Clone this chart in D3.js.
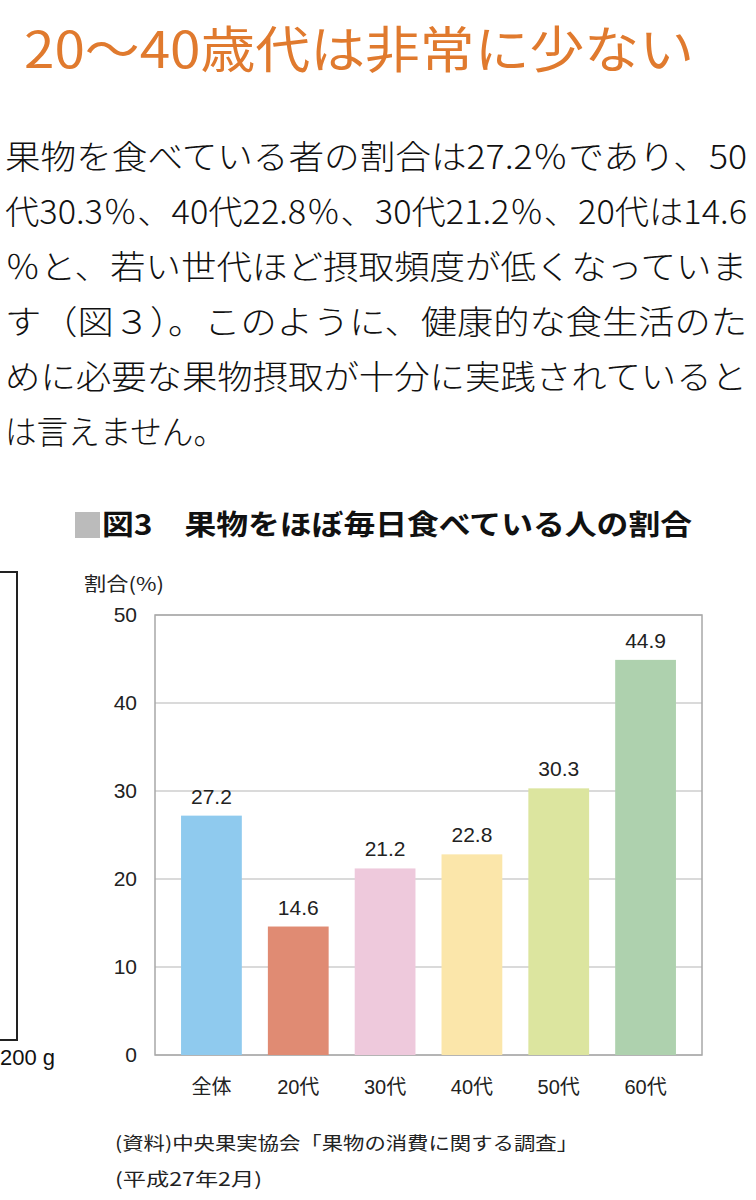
<!DOCTYPE html>
<html>
<head>
<meta charset="utf-8">
<script src="https://cdn.jsdelivr.net/npm/d3@7"></script>
<style>
  body { margin: 0; background: #fff; }
  svg text { font-family: "Liberation Sans", "Noto Sans CJK JP", sans-serif; }
</style>
</head>
<body>
<div id="chart"></div>
<script>
// data
var categories = ["全体", "20代", "30代", "40代", "50代", "60代"];
var values = [27.2, 14.6, 21.2, 22.8, 30.3, 44.9];
var barColors = ["#8fcaee", "#e08b73", "#eec9dc", "#fbe6aa", "#dce59f", "#aed1ae"];
var yTicks = [0, 10, 20, 30, 40, 50];

var heading = "20～40歳代は非常に少ない";
var bodyLines = [
  "果物を食べている者の割合は27.2％であり、50",
  "代30.3％、40代22.8％、30代21.2％、20代は14.6",
  "％と、若い世代ほど摂取頻度が低くなっていま",
  "す（図３）。このように、健康的な食生活のた",
  "めに必要な果物摂取が十分に実践されていると",
  "は言えません。"
];
var chartTitle = "図3　果物をほぼ毎日食べている人の割合";
var yTitle = "割合(%)";
var sourceLines = ["(資料)中央果実協会「果物の消費に関する調査」", "(平成27年2月)"];

var W = 756, H = 1200;
var svg = d3.select("#chart").append("svg")
  .attr("width", W)
  .attr("height", H);

// heading
svg.append("text")
  .attr("x", 24).attr("y", 68)
  .attr("textLength", 670).attr("lengthAdjust", "spacingAndGlyphs")
  .style("font-family", "'Noto Sans CJK JP', sans-serif")
  .style("font-size", "50px")
  .style("font-weight", 400)
  .attr("fill", "#e07a2e")
  .text(heading);

// body paragraph
svg.selectAll(".body").data(bodyLines).enter().append("text")
  .attr("class", "body")
  .attr("x", 5)
  .attr("y", function(d, i) { return 169 + i * 55; })
  .attr("textLength", function(d, i) { return i < 5 ? 742 : 220; })
  .attr("lengthAdjust", "spacingAndGlyphs")
  .style("font-family", "'Noto Sans CJK JP', serif")
  .style("font-size", "33px")
  .style("font-weight", 300)
  .attr("fill", "#111")
  .text(function(d) { return d; });

// chart title
svg.append("rect")
  .attr("x", 75).attr("y", 512).attr("width", 25).attr("height", 26)
  .attr("fill", "#bbbbbb");
svg.append("text")
  .attr("x", 102).attr("y", 535)
  .attr("textLength", 590).attr("lengthAdjust", "spacingAndGlyphs")
  .style("font-family", "'Noto Sans CJK JP', sans-serif")
  .style("font-size", "28px")
  .style("font-weight", 700)
  .attr("fill", "#111")
  .text(chartTitle);

// partial frame of the neighbouring figure on the left
svg.append("path")
  .attr("d", "M-5,572 H17 V1040 H-5")
  .attr("fill", "none")
  .attr("stroke", "#222")
  .attr("stroke-width", 2);
svg.append("text")
  .attr("x", 0).attr("y", 1065)
  .style("font-size", "22px")
  .attr("fill", "#111")
  .text("200 g");

// plot area
var plotL = 155, plotR = 702, plotT = 615, plotB = 1055;

var x = d3.scaleBand()
  .domain(categories)
  .range([plotL, plotR])
  .paddingInner(0.3)
  .paddingOuter(0.3);

var y = d3.scaleLinear()
  .domain([0, 50])
  .range([plotB, plotT]);

// gridlines
svg.append("g")
  .selectAll("line").data(yTicks).enter().append("line")
  .attr("x1", plotL).attr("x2", plotR)
  .attr("y1", function(d) { return y(d); })
  .attr("y2", function(d) { return y(d); })
  .attr("stroke", "#b5b5b5")
  .attr("stroke-width", 1.2);

// frame
svg.append("rect")
  .attr("x", plotL).attr("y", plotT)
  .attr("width", plotR - plotL).attr("height", plotB - plotT)
  .attr("fill", "none")
  .attr("stroke", "#a8a8a8")
  .attr("stroke-width", 1.5);

// y axis labels
var yAxis = svg.append("g")
  .attr("transform", "translate(" + plotL + ",0)")
  .call(d3.axisLeft(y).tickValues(yTicks).tickSize(0).tickPadding(18));
yAxis.select(".domain").remove();
yAxis.selectAll("text")
  .style("font-family", "'Liberation Sans', sans-serif")
  .style("font-size", "21px")
  .attr("fill", "#222");

svg.append("text")
  .attr("x", 84).attr("y", 591)
  .attr("textLength", 80).attr("lengthAdjust", "spacingAndGlyphs")
  .style("font-family", "'Noto Sans CJK JP', sans-serif")
  .style("font-size", "19px")
  .attr("fill", "#222")
  .text(yTitle);

// bars
svg.selectAll(".bar").data(values).enter().append("rect")
  .attr("class", "bar")
  .attr("x", function(d, i) { return x(categories[i]); })
  .attr("width", x.bandwidth())
  .attr("y", function(d) { return y(d); })
  .attr("height", function(d) { return plotB - y(d); })
  .attr("fill", function(d, i) { return barColors[i]; });

// value labels
svg.selectAll(".val").data(values).enter().append("text")
  .attr("class", "val")
  .attr("x", function(d, i) { return x(categories[i]) + x.bandwidth() / 2; })
  .attr("y", function(d) { return y(d) - 12; })
  .attr("text-anchor", "middle")
  .style("font-size", "21px")
  .attr("fill", "#222")
  .text(function(d) { return d.toFixed(1); });

// category labels
svg.selectAll(".cat").data(categories).enter().append("text")
  .attr("class", "cat")
  .attr("x", function(d) { return x(d) + x.bandwidth() / 2; })
  .attr("y", 1094)
  .attr("text-anchor", "middle")
  .style("font-size", "20px")
  .attr("fill", "#222")
  .text(function(d) { return d; });

// source
svg.selectAll(".src").data(sourceLines).enter().append("text")
  .attr("class", "src")
  .attr("x", 115)
  .attr("y", function(d, i) { return 1150 + i * 36; })
  .attr("textLength", function(d, i) { return i === 0 ? 463 : 147; })
  .attr("lengthAdjust", "spacingAndGlyphs")
  .style("font-family", "'Noto Sans CJK JP', sans-serif")
  .style("font-size", "18px")
  .attr("fill", "#222")
  .text(function(d) { return d; });
</script>
</body>
</html>
